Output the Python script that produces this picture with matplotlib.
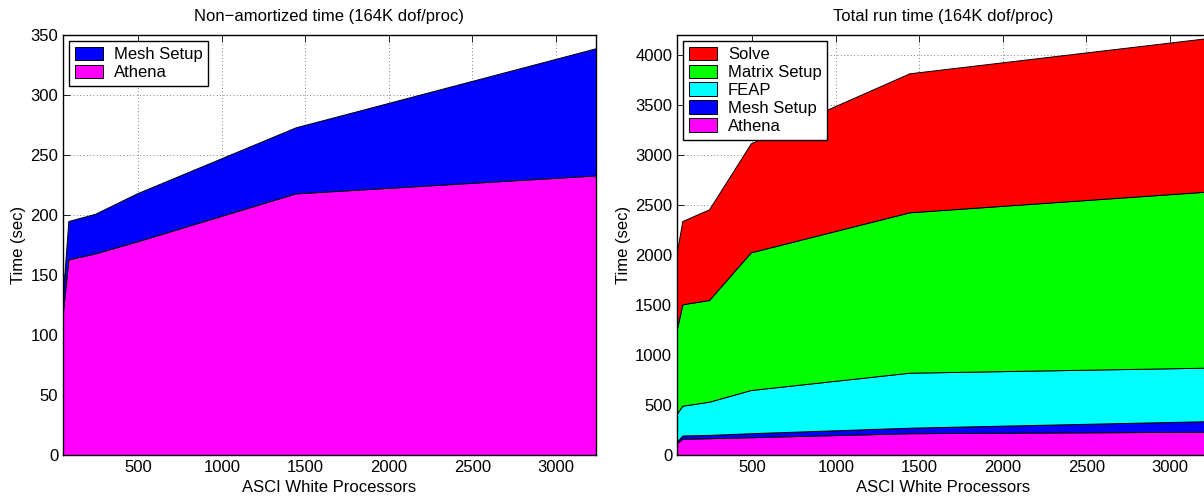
import matplotlib
matplotlib.use("Agg")
import matplotlib.pyplot as plt
import numpy as np

plt.rcParams['font.family'] = ['Liberation Sans', 'DejaVu Sans']

# ---- data ----
procs = [48, 80, 240, 490, 1440, 3240]
athena = [120, 163, 168, 178, 218, 233]
mesh_setup = [15, 32, 33, 40, 55, 106]
feap = [282, 298, 332, 432, 550, 535]
matrix_setup = [850, 1014, 1017, 1377, 1604, 1762]
solve = [773, 833, 907, 1090, 1390, 1536]

left_labels = ['Athena', 'Mesh Setup']
right_labels = ['Athena', 'Mesh Setup', 'FEAP', 'Matrix Setup', 'Solve']
colors = ['#FF00FF', '#0000FF', '#00FFFF', '#00FF00', '#FF0000']

left_title = 'Non\u2212amortized time (164K dof/proc)'
right_title = 'Total run time (164K dof/proc)'
xlabel = 'ASCI White Processors'
ylabel = 'Time (sec)'
xticks = [500, 1000, 1500, 2000, 2500, 3000]
left_yticks = list(range(0, 351, 50))
right_yticks = list(range(0, 4001, 500))

W, H = 1204, 498
fig = plt.figure(figsize=(W / 100, H / 100), dpi=100)
ax1 = fig.add_axes([63 / W, 43 / H, 533 / W, 420 / H])
ax2 = fig.add_axes([677 / W, 43 / H, 533 / W, 420 / H])

FS = 12


def style(ax, yticks, ylim):
    ax.set_xlim(procs[0], procs[-1])
    ax.set_ylim(*ylim)
    ax.set_xticks(xticks)
    ax.set_yticks(yticks)
    ax.tick_params(direction='in', top=True, right=True, length=5, width=0.6,
                   labelsize=FS, pad=3.5)
    ax.grid(True, linestyle=(0, (1, 3)), color='#555555', linewidth=0.6)
    ax.set_axisbelow(True)
    for s in ax.spines.values():
        s.set_linewidth(1.0)
    ax.set_xlabel(xlabel, fontsize=FS, labelpad=3.5)
    ax.set_ylabel(ylabel, fontsize=FS, labelpad=3)


def stacked(ax, series, labels):
    base = np.zeros(len(procs))
    handles = []
    for vals, lab, col in zip(series, labels, colors):
        top = base + np.array(vals)
        h = ax.fill_between(procs, base, top, facecolor=col, edgecolor='black',
                            linewidth=0.7, label=lab, zorder=2)
        handles.append(h)
        base = top
    return handles


def legend(ax, handles):
    leg = ax.legend(handles=handles[::-1], loc='upper left', fontsize=FS,
                    frameon=True, fancybox=False, edgecolor='black',
                    framealpha=1, borderaxespad=0.35, handlelength=1.7,
                    handleheight=0.85, labelspacing=0.15, borderpad=0.35,
                    handletextpad=0.65)
    leg.get_frame().set_linewidth(1.0)


h1 = stacked(ax1, [athena, mesh_setup], left_labels)
style(ax1, left_yticks, (0, 350))
ax1.set_title(left_title, fontsize=FS, pad=10)
legend(ax1, h1)

h2 = stacked(ax2, [athena, mesh_setup, feap, matrix_setup, solve], right_labels)
style(ax2, right_yticks, (0, 4200))
ax2.set_title(right_title, fontsize=FS, pad=10)
legend(ax2, h2)

fig.savefig('out.png', dpi=100)
